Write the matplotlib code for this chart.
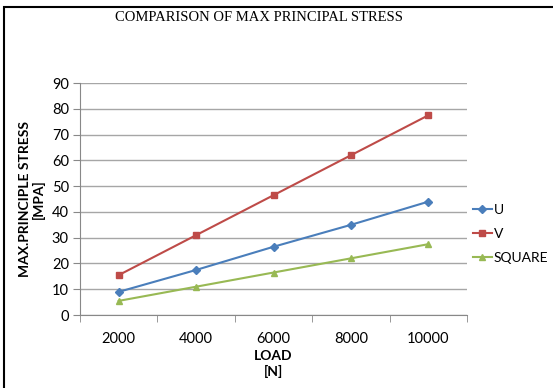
import matplotlib.pyplot as plt
from matplotlib.patches import Rectangle

load = [2000, 4000, 6000, 8000, 10000]
u = [9, 17.5, 26.5, 35, 44]
v = [15.5, 31, 46.5, 62, 77.5]
square = [5.5, 11, 16.5, 22, 27.5]

plt.rcParams['font.family'] = ['Lato', 'DejaVu Sans']

fig = plt.figure(figsize=(5.53, 3.88), dpi=100)
ax = fig.add_axes([0.1447, 0.188, 0.7, 0.598])

x = list(range(len(load)))
ax.plot(x, u, color='#4a7ebb', marker='D', markersize=4, linewidth=1.5, label='U')
ax.plot(x, v, color='#be4b48', marker='s', markersize=5, linewidth=1.5, label='V')
ax.plot(x, square, color='#98b954', marker='^', markersize=5, linewidth=1.5, label='SQUARE')

ax.set_xlim(-0.5, 4.5)
ax.set_ylim(0, 90)
ax.set_yticks(range(0, 91, 10))
ax.set_xticks(x)
ax.set_xticklabels([str(l) for l in load])
ax.set_xticks([i - 0.5 for i in range(6)], minor=True)
ax.tick_params(axis='x', which='major', length=0, pad=12, labelsize=10.5)
ax.tick_params(axis='x', which='minor', length=5, color='#888888', direction='out')
ax.tick_params(axis='y', length=5, color='#888888', labelsize=10.5, pad=3)
ax.grid(axis='y', color='#a6a6a6', linewidth=1)
ax.set_axisbelow(True)
for s in ['top', 'right']:
    ax.spines[s].set_visible(False)
ax.spines['left'].set_color('#888888')
ax.spines['bottom'].set_color('#888888')

ax.set_xlabel('LOAD\n[N]', fontweight='bold', fontsize=10, labelpad=3, linespacing=1.25)
ax.set_ylabel('MAX.PRINCIPLE STRESS\n[MPA]', fontweight='bold', fontsize=10, labelpad=5, linespacing=1.05)

fig.text(0.468, 0.955, 'COMPARISON OF MAX PRINCIPAL STRESS', ha='center', va='center',
         family='Liberation Serif', fontsize=10.5)

ax.legend(loc='center left', bbox_to_anchor=(1.0, 0.35), frameon=False, fontsize=10,
          handlelength=1.4, handletextpad=0.1, labelspacing=0.85, borderaxespad=0.2,
          borderpad=0.2)

fig.patches.append(Rectangle((0.0075, -0.05), 1.2, 1.032, transform=fig.transFigure,
                             fill=False, edgecolor='black', linewidth=1.5))

fig.savefig('out.png', dpi=100)
